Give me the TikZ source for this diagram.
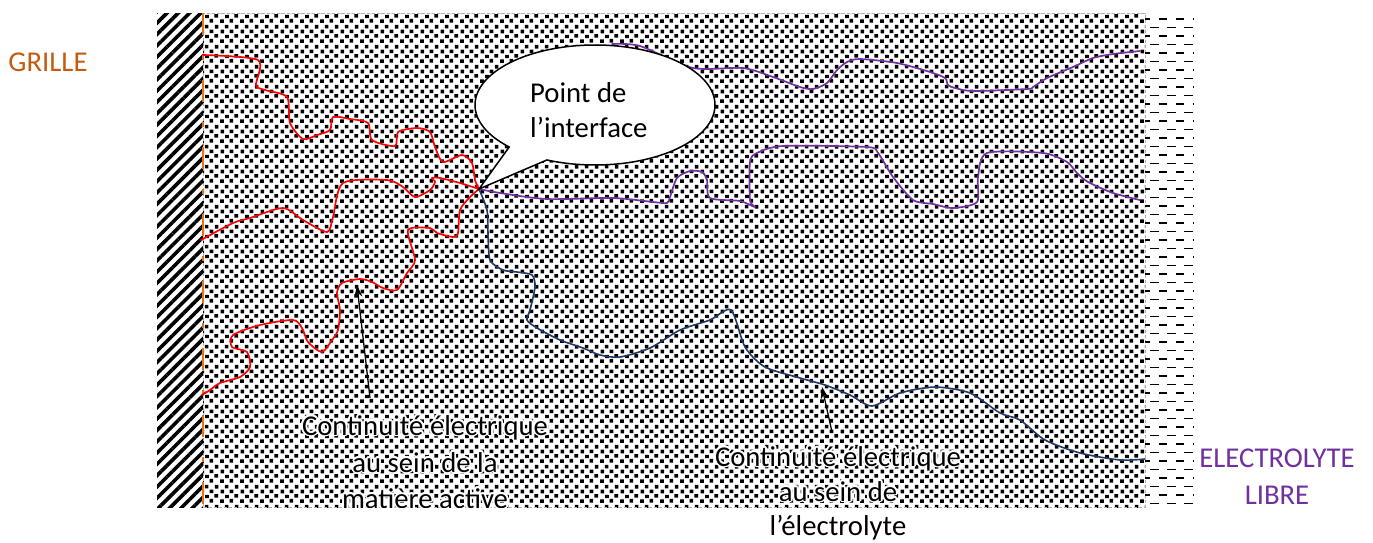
\documentclass[tikz,border=0pt]{standalone}
\usepackage{fontspec}
\setmainfont{Carlito}
\usetikzlibrary{patterns.meta,shapes.callouts,arrows.meta}
\definecolor{redc}{RGB}{255,0,0}
\definecolor{purplec}{RGB}{112,48,160}
\definecolor{navyc}{RGB}{32,56,100}
\definecolor{brownc}{RGB}{197,90,17}
\definecolor{orangec}{RGB}{230,115,20}
\tikzdeclarepattern{
  name=speckle,
  type=colored,
  bounding box={(0pt,0pt) and (20pt,20pt)},
  tile size={(20pt,20pt)},
  code={
    \fill[black] (0pt,0pt) rectangle ++(4pt,3.8pt);
    \fill[black] (10pt,0.5pt) rectangle ++(3.7pt,3.9pt);
    \fill[black] (5.5pt,5pt) rectangle ++(3.9pt,3.6pt);
    \fill[black] (15pt,5.6pt) rectangle ++(4pt,3.8pt);
    \fill[black] (0.6pt,10pt) rectangle ++(3.7pt,3.9pt);
    \fill[black] (10pt,10.4pt) rectangle ++(4pt,3.6pt);
    \fill[black] (5pt,15.3pt) rectangle ++(3.8pt,3.7pt);
    \fill[black] (15.5pt,15pt) rectangle ++(3.8pt,3.9pt);
  }
}
\newcommand{\halolabel}[4]{%
  \foreach \a in {0,30,...,330}{%
    \node[labtext,text=white,xshift={1.8*cos(\a)},yshift={1.8*sin(\a)}] (#1h\a) at (#2,#3) {#4};}%
  \node[labtext] (#1) at (#2,#3) {#4};}
\begin{document}
\begin{tikzpicture}[x=1pt,y=-1pt,
  labtext/.style={font=\fontsize{28.7}{34}\selectfont,anchor=base,inner sep=0pt},
  sidelab/.style={font=\fontsize{28.7}{34}\selectfont,anchor=base,inner sep=0pt},
  redpath/.style={draw=redc,line width=1.7pt,line join=round,line cap=round},
  purplepath/.style={draw=purplec,line width=1.7pt,line join=round,line cap=round},
  navypath/.style={draw=navyc,line width=1.6pt,line join=round,line cap=round},
  pointer/.style={draw=black,line width=1.3pt,-{Stealth[length=12pt,width=8pt]}},
  dashrow/.style={draw=black,line width=1.4pt,dash pattern=on 8.5pt off 8.5pt}]
\useasboundingbox (0,0) rectangle (1373,542);
% backgrounds
\fill[pattern=speckle] (203,13) rectangle (1145,507);
\draw[gray!60,line width=0.6pt,dash pattern=on 3pt off 2pt] (203,13) rectangle (1145,507);
\fill[pattern={Lines[angle=45,distance=8pt,line width=3.6pt]}] (157,13) rectangle (203,507);
\draw[orangec,line width=2.2pt,dash pattern=on 22pt off 20pt on 5pt off 20pt] (203,13) -- (203,507);
\foreach \k in {0,...,57}{%
  \pgfmathsetmacro\yy{19+8.5*\k}%
  \pgfmathsetmacro\ph{ifthenelse(mod(\k,2)==0,3.5,12)}%
  \draw[dashrow,dash phase=\ph pt] (1145,\yy) -- (1193,\yy);}
% interface point
\coordinate (ip) at (479,189);
% red paths
\draw[redpath] plot[smooth,tension=0.45] coordinates {(203,55) (258,60) (256,85) (265,90) (287,97) (290,123) (303,139) (317,135) (330,130) (333,117) (350,119) (368,123) (372,140) (395,146) (398,132) (417,128) (430,132) (435,147) (443,162) (462,155) (472,163) (475,180) (ip)};
\draw[redpath] plot[smooth,tension=0.45] coordinates {(201,240) (233,223) (250,218) (283,208) (303,220) (327,232) (333,217) (343,183) (387,180) (403,187) (415,197) (430,190) (435,182) (432,178) (440,178) (460,183) (ip)};
\draw[redpath] plot[smooth,tension=0.45] coordinates {(ip) (470,197) (460,210) (458,233) (453,237) (437,233) (430,228) (408,230) (415,260) (407,273) (397,290) (383,288) (372,282) (360,279) (342,283) (337,293) (340,310) (338,330) (332,340) (322,352) (308,342) (302,328) (293,320) (260,325) (233,335) (232,347) (247,352) (250,367) (240,377) (220,383) (210,390) (202,395) (206,392)};
% purple paths
\draw[purplepath] plot[smooth,tension=0.45] coordinates {(612,44) (640,46) (693,68) (743,68) (773,77) (800,87) (813,89) (827,83) (837,70) (847,62) (860,59) (897,63) (930,72) (945,78) (948,85) (955,88) (973,91) (1027,89) (1033,87) (1047,78) (1073,67) (1093,58) (1113,54) (1140,51)};
\draw[purplepath] plot[smooth,tension=0.45] coordinates {(ip) (500,193) (547,199) (613,198) (653,202) (667,203) (670,197) (677,178) (690,171) (702,172) (707,180) (710,198) (740,201) (755,207) (750,200) (750,162) (757,153) (783,146) (867,147) (878,153) (893,177) (913,200) (933,204) (953,208) (977,202) (978,177) (987,153) (1043,153) (1067,162) (1077,173) (1088,182) (1113,193) (1140,200)};
% navy path
\draw[navypath] plot[smooth,tension=0.45] coordinates {(ip) (487,210) (488,233) (490,260) (503,270) (517,272) (532,275) (535,287) (530,310) (527,320) (537,328) (560,340) (583,348) (600,355) (620,357) (650,348) (680,330) (710,320) (731,310) (745,347) (765,367) (800,378) (825,385) (850,395) (872,406) (900,393) (935,387) (970,393) (1000,413) (1020,420) (1045,440) (1080,453) (1120,460) (1145,459)};
% speech bubble
\node[ellipse callout,draw=black,line width=1.5pt,fill=white,minimum width=240pt,minimum height=120pt,inner sep=0pt,callout absolute pointer={(ip)},callout pointer arc=22] (bubble) at (595,105) {};
\node[sidelab,anchor=base west] (pt1) at (530,102) {Point de};
\node[sidelab,anchor=base west] (pt2) at (530,137) {l’interface};
% side labels
\node[sidelab,text=brownc] (grille) at (48,71) {GRILLE};
\node[sidelab,text=purplec] (elec1) at (1277,467) {ELECTROLYTE};
\node[sidelab,text=purplec] (elec2) at (1277,504) {LIBRE};
% continuity labels
\begin{scope}
\clip (157,13) rectangle (1193,507);
\halolabel{la}{425}{435}{Continuité électrique}
\halolabel{lb}{425}{472}{au sein de la}
\halolabel{lc}{425}{508}{matière active}
\end{scope}
\halolabel{ma}{838}{466}{Continuité électrique}
\halolabel{mb}{838}{501}{au sein de}
\node[labtext] (mc) at (838,535) {l’électrolyte};
% arrows
\coordinate (a1s) at (370,398);
\coordinate (a1e) at (357,285);
\coordinate (a2s) at (832,432);
\coordinate (a2e) at (822,387);
\draw[pointer] (a1s) -- (a1e);
\draw[pointer] (a2s) -- (a2e);
\end{tikzpicture}
\end{document}
